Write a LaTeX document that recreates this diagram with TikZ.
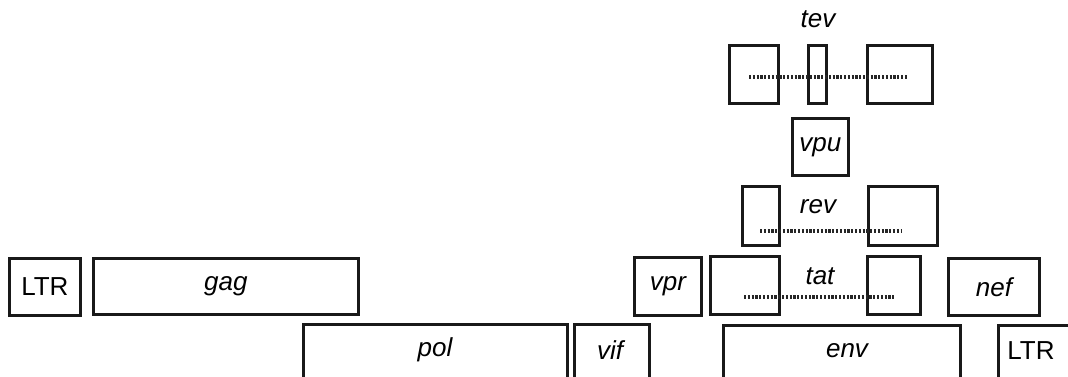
\documentclass[tikz,border=0pt]{standalone}
\usepackage{fontspec}
\setmainfont{Liberation Sans}
\begin{document}
\begin{tikzpicture}[x=1pt,y=-1pt,
  genebox/.style={draw=black!90, line width=2.8pt, inner sep=0pt, anchor=north west},
  lbl/.style={font=\fontsize{26}{30}\selectfont\itshape, inner sep=0pt},
  ltrlbl/.style={font=\fontsize{26}{30}\selectfont, inner sep=0pt},
  dotline/.style={line width=4pt, dash pattern=on 2.2pt off 1.6pt, black!85}]
\useasboundingbox (0,0) rectangle (1068,377);
\clip (0,0) rectangle (1068,377);
\newcommand{\gbox}[6][]{\node[genebox,minimum width=#4-#2,minimum height=#5-#3,#1] (#6) at (#2,#3) {};}
% row 1
\gbox{8}{257}{79}{314}{ltrA}
\gbox{92}{257}{357}{313}{gag}
\gbox{633}{256}{700}{314}{vpr}
\gbox{709}{255}{778}{313}{tatA}
\gbox{866}{255}{919}{313}{tatB}
\gbox{947}{257}{1038}{314}{nef}
% row 2
\gbox{302}{323}{566}{385}{pol}
\gbox{573}{323}{648}{385}{vif}
\gbox{722}{324}{959}{385}{env}
\gbox{997}{324}{1085}{385}{ltrB}
% rev
\gbox{741}{185}{778}{244}{revA}
\gbox{867}{185}{936}{244}{revB}
% tev
\gbox{728}{44}{777}{102}{tevA}
\gbox{807}{44}{825}{102}{tevB}
\gbox{866}{44}{931}{102}{tevC}
% vpu
\gbox{791}{117}{847}{174}{vpu}
% labels
\node[ltrlbl] at (ltrA.center) {LTR};
\node[lbl] at (gag.center) {gag};
\node[lbl] at (vpr.center) {vpr};
\node[lbl] at (nef.center) {nef};
\node[lbl] at (435,350) {pol};
\node[lbl] at (610,350) {vif};
\node[lbl] at (847,351) {env};
\node[ltrlbl] at (1031,351) {LTR};
\node[lbl] at (vpu.center) {vpu};
\node[lbl] (tevlbl) at (818,19) {tev};
\node[lbl] (revlbl) at (818,207) {rev};
\node[lbl] (tatlbl) at (820,276) {tat};
% dotted splice lines
\coordinate (t1) at (749,77); \coordinate (t2) at (907,77);
\coordinate (r1) at (760,231); \coordinate (r2) at (902,231);
\coordinate (a1) at (744,297); \coordinate (a2) at (894,297);
\draw[dotline] (t1) -- (t2);
\draw[dotline] (r1) -- (r2);
\draw[dotline] (a1) -- (a2);
\end{tikzpicture}
\end{document}
